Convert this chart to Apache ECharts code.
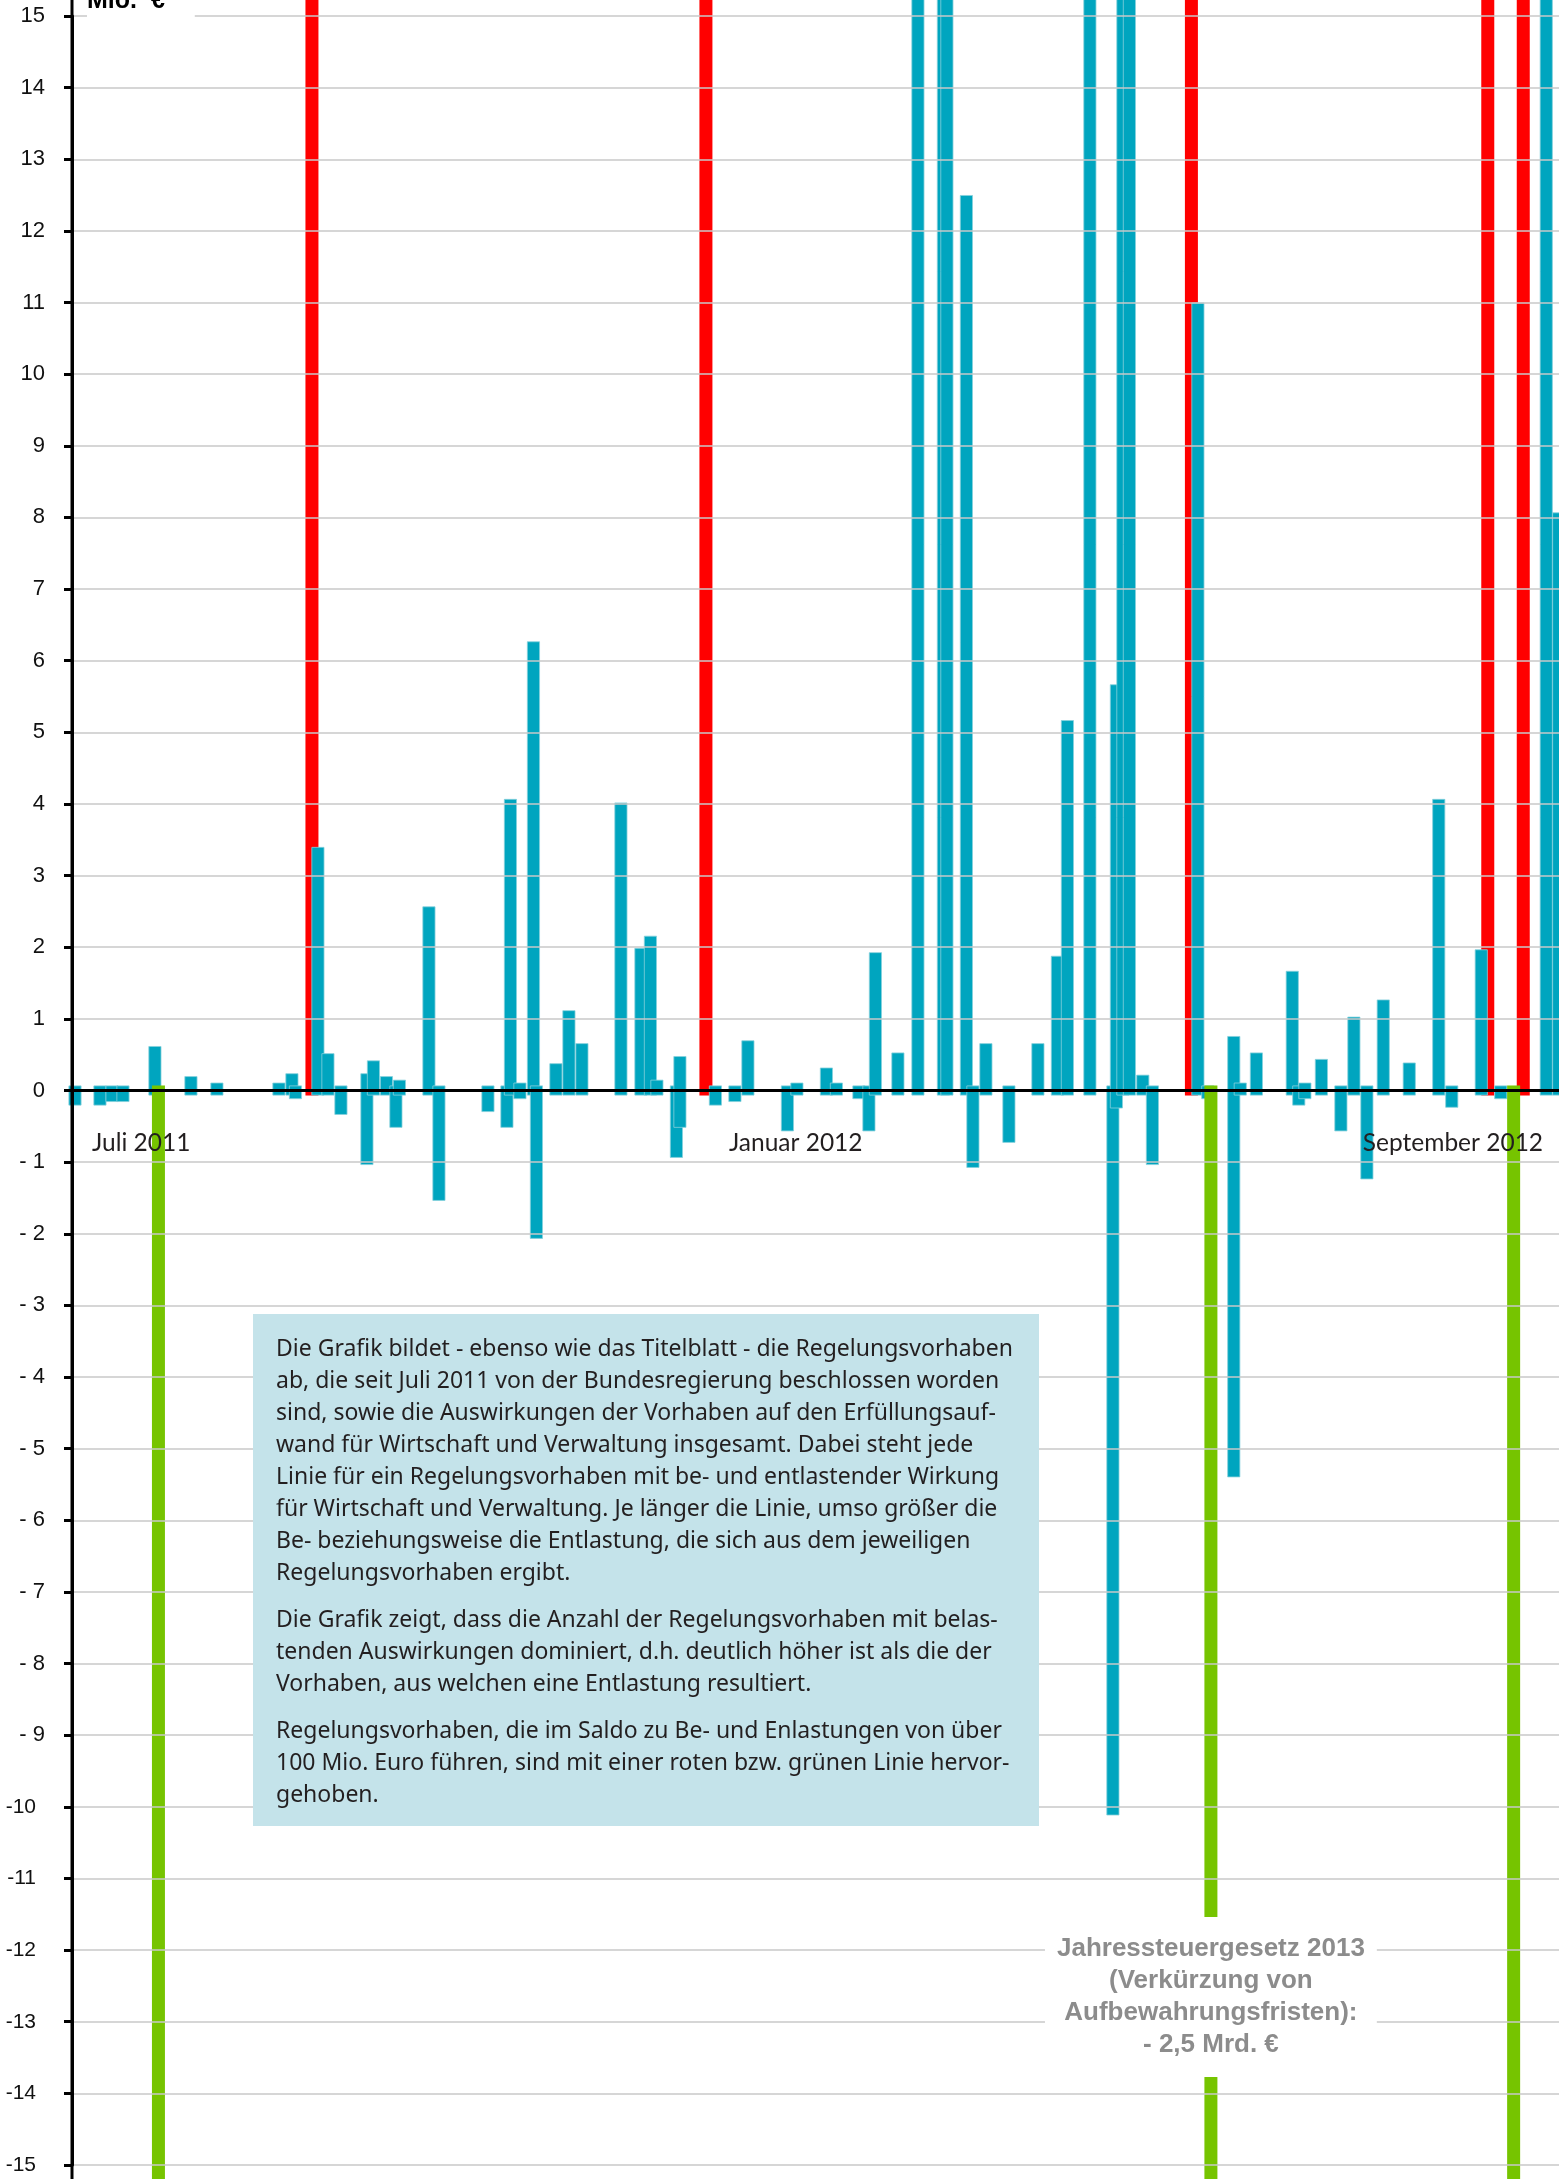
<!DOCTYPE html>
<html>
<head>
<meta charset="utf-8">
<script src="https://cdn.jsdelivr.net/npm/echarts@6.0.0/dist/echarts.min.js"></script>
<style>
  html, body { margin: 0; padding: 0; background: #fff; }
  #chart { width: 1559px; height: 2179px; }
</style>
</head>
<body>
<div id="chart"></div>
<script>
// Lage der Regelungsvorhaben auf der Zeitachse (in Balkenbreiten ab der y-Achse)
const vorhabenPos = [
  0.23, 2.15, 3.08, 3.92, 6.38, 9.15, 11.15, 15.92, 16.92, 17.19,
  18.92, 19.69, 20.69, 22.69, 23.19, 24.19, 24.92, 25.19, 27.46, 28.23,
  32.0, 33.46, 33.73, 34.46, 35.5, 35.73, 37.23, 38.23, 39.23, 42.23,
  43.77, 44.5, 45.0, 46.5, 46.77, 49.5, 51.0, 52.0, 55.04, 55.77,
  58.04, 58.81, 60.54, 61.31, 61.81, 63.54, 65.08, 67.04, 67.31, 68.81,
  69.31, 70.31, 72.08, 74.31, 75.81, 76.58, 78.31, 80.08, 80.35, 80.85,
  81.35, 82.38, 83.12, 86.62, 87.38, 89.38, 89.88, 91.12, 93.88, 94.38,
  94.85, 96.12, 97.62, 98.62, 99.62, 100.88, 102.88, 105.15, 106.15, 108.42,
  109.92, 113.42, 114.38
];
// Belastung in Mio. € (Werte über 15 laufen aus dem Bild)
const belastung = [
  0.07, 0.07, 0.07, 0.07, 0.62, 0.2, 0.11, 0.11, 0.24, 0.07,
  3.4, 0.52, 0.07, 0.24, 0.42, 0.2, 0.07, 0.15, 2.57, 0.07,
  0.07, 0.07, 4.07, 0.11, 6.27, 0.07, 0.38, 1.12, 0.66, 4.02,
  1.99, 2.16, 0.15, 0.07, 0.48, 0.07, 0.07, 0.7, 0.07, 0.11,
  0.32, 0.11, 0.07, 0.07, 1.93, 0.53, 20, 20, 20, 12.5,
  0.07, 0.66, 0.07, 0.66, 1.88, 5.17, 20, 0.07, 5.67, 20,
  20, 0.22, 0.07, 11.0, 0.07, 0.76, 0.11, 0.53, 1.67, 0.07,
  0.11, 0.44, 0.07, 1.03, 0.07, 1.27, 0.39, 4.07, 0.07, 1.97,
  0.07, 20, 8.07
];
// Entlastung in Mio. €
const entlastung = [
  -0.21, -0.21, -0.16, -0.16, -0.07, -0.07, -0.07, -0.07, -0.07, -0.12,
  -0.07, -0.07, -0.34, -1.04, -0.07, -0.07, -0.52, -0.07, -0.07, -1.54,
  -0.3, -0.52, -0.07, -0.12, -0.07, -2.07, -0.07, -0.07, -0.07, -0.07,
  -0.07, -0.07, -0.07, -0.94, -0.52, -0.21, -0.16, -0.07, -0.57, -0.07,
  -0.07, -0.07, -0.12, -0.57, -0.07, -0.07, -0.07, -0.07, -0.07, -0.07,
  -1.08, -0.07, -0.73, -0.07, -0.07, -0.07, -0.07, -10.12, -0.25, -0.07,
  -0.07, -0.07, -1.04, -0.07, -0.12, -5.4, -0.07, -0.07, -0.07, -0.21,
  -0.12, -0.07, -0.57, -0.07, -1.24, -0.07, -0.07, -0.07, -0.24, -0.07,
  -0.12, -0.07, -0.07
];
// Vorhaben mit über 100 Mio. € Belastung (rot)
const rotPos = [18.46, 48.77, 86.12, 108.92, 111.65];
const rotBelastung = [100, 100, 100, 100, 100];
const rotEntlastung = [-0.07, -0.07, -0.07, -0.07, -0.07];
// Vorhaben mit über 100 Mio. € Entlastung (grün)
const gruenPos = [6.65, 87.62, 110.91];
const gruenBelastung = [0.07, 0.07, 0.07];
const gruenEntlastung = [-100, -2500, -100];

const zeitLabels = ['Juli 2011', 'Januar 2012', 'September 2012'];
const zeitPos = [1.54, 50.54, 99.31];

const infoAbsaetze = [
  'Die Grafik bildet - ebenso wie das Titelblatt - die Regelungsvorhaben\n' +
  'ab, die seit Juli 2011 von der Bundesregierung beschlossen worden\n' +
  'sind, sowie die Auswirkungen der Vorhaben auf den Erfüllungsauf-\n' +
  'wand für Wirtschaft und Verwaltung insgesamt. Dabei steht jede\n' +
  'Linie für ein Regelungsvorhaben mit be- und entlastender Wirkung\n' +
  'für Wirtschaft und Verwaltung. Je länger die Linie, umso größer die\n' +
  'Be- beziehungsweise die Entlastung, die sich aus dem jeweiligen\n' +
  'Regelungsvorhaben ergibt.',
  'Die Grafik zeigt, dass die Anzahl der Regelungsvorhaben mit belas-\n' +
  'tenden Auswirkungen dominiert, d.h. deutlich höher ist als die der\n' +
  'Vorhaben, aus welchen eine Entlastung resultiert.',
  'Regelungsvorhaben, die im Saldo zu Be- und Enlastungen von über\n' +
  '100 Mio. Euro führen, sind mit einer roten bzw. grünen Linie hervor-\n' +
  'gehoben.'
];
const infoTop = [1333, 1604, 1715];

const hinweis = 'Jahressteuergesetz 2013\n(Verkürzung von\nAufbewahrungsfristen):\n- 2,5 Mrd. €';

const pairs = (xs, ys) => xs.map((x, i) => [x, ys[i]]);

const chart = echarts.init(document.getElementById('chart'));

const option = {
  animation: false,
  backgroundColor: '#fff',
  grid: { left: 72, right: 0, top: 16, bottom: 14, containLabel: false, outerBoundsMode: 'none' },
  xAxis: {
    type: 'value',
    min: 0,
    max: 114.4,
    z: 10,
    axisLine: { show: true, onZero: true, lineStyle: { color: '#000', width: 3 } },
    axisTick: { show: false },
    axisLabel: { show: false },
    splitLine: { show: false }
  },
  yAxis: {
    type: 'value',
    min: -15,
    max: 15,
    interval: 1,
    z: 10,
    axisLine: { show: true, lineStyle: { color: '#000', width: 3 } },
    axisTick: { show: true, length: 8, lineStyle: { color: '#000', width: 3 } },
    axisLabel: {
      margin: 27,
      color: '#111',
      fontSize: 22,
      fontFamily: 'Liberation Sans',
      formatter: (v) => {
        if (v >= 0) return String(v);
        if (v > -10) return '- ' + (-v);
        return '{w|' + v + '}';
      },
      rich: {
        w: { fontSize: 21, fontFamily: 'Liberation Sans', color: '#111', padding: [0, 9, 0, 0] }
      }
    },
    splitLine: { show: true, lineStyle: { color: '#c8c8c8', width: 1.5 } }
  },
  series: [
    {
      name: 'Belastung über 100 Mio. €',
      type: 'bar',
      barWidth: 13,
      barGap: '-100%',
      clip: false,
      z: 2,
      itemStyle: { color: '#ff0000' },
      data: pairs(rotPos, rotBelastung).concat(pairs(rotPos, rotEntlastung))
    },
    {
      name: 'Regelungsvorhaben',
      type: 'bar',
      barWidth: 13,
      barGap: '-100%',
      clip: false,
      z: 3,
      itemStyle: { color: '#00a5bf', borderColor: '#86d0dc', borderWidth: 0.8 },
      data: pairs(vorhabenPos, belastung).concat(pairs(vorhabenPos, entlastung))
    },
    {
      name: 'Entlastung über 100 Mio. €',
      type: 'bar',
      barWidth: 13,
      barGap: '-100%',
      clip: false,
      z: 4,
      itemStyle: { color: '#76c400' },
      data: pairs(gruenPos, gruenBelastung).concat(pairs(gruenPos, gruenEntlastung))
    }
  ]
};

chart.setOption(option);

// Beschriftungen, die an der x-Achse hängen
const toX = (v) => chart.convertToPixel({ xAxisIndex: 0 }, v);

const graphics = [
  // y-Achse läuft über den ganzen Rand
  {
    type: 'line',
    shape: { x1: 72, y1: 0, x2: 72, y2: 2179 },
    style: { stroke: '#000', lineWidth: 3 },
    z: 20
  },
  {
    type: 'text',
    x: 87,
    y: -11,
    z: 30,
    style: {
      text: 'Mio.  €',
      font: 'bold 25px "Liberation Sans"',
      fill: '#000',
      verticalAlign: 'top',
      backgroundColor: '#fff',
      padding: [0, 30, 4, 0]
    }
  },
  {
    type: 'rect',
    shape: { x: 253, y: 1314, width: 786, height: 512 },
    style: { fill: '#c4e3ea' },
    z: 30
  },
  {
    type: 'text',
    x: toX(gruenPos[1]),
    y: 1997,
    z: 40,
    style: {
      text: hinweis,
      font: 'bold 26px "Liberation Sans"',
      fill: '#8c8c8c',
      align: 'center',
      verticalAlign: 'middle',
      lineHeight: 32,
      backgroundColor: '#fff',
      padding: [16, 12]
    }
  }
];

zeitLabels.forEach((t, i) => {
  graphics.push({
    type: 'text',
    x: toX(zeitPos[i]),
    y: 1143,
    z: 30,
    style: { text: t, font: '24.5px Lato', fill: '#231f20', verticalAlign: 'middle' }
  });
});

infoAbsaetze.forEach((t, i) => {
  graphics.push({
    type: 'text',
    x: 276,
    y: infoTop[i],
    z: 35,
    style: { text: t, font: '23px "Noto Sans"', fill: '#231f20', verticalAlign: 'top', lineHeight: 32 }
  });
});

chart.setOption({ graphic: graphics });
</script>
</body>
</html>
